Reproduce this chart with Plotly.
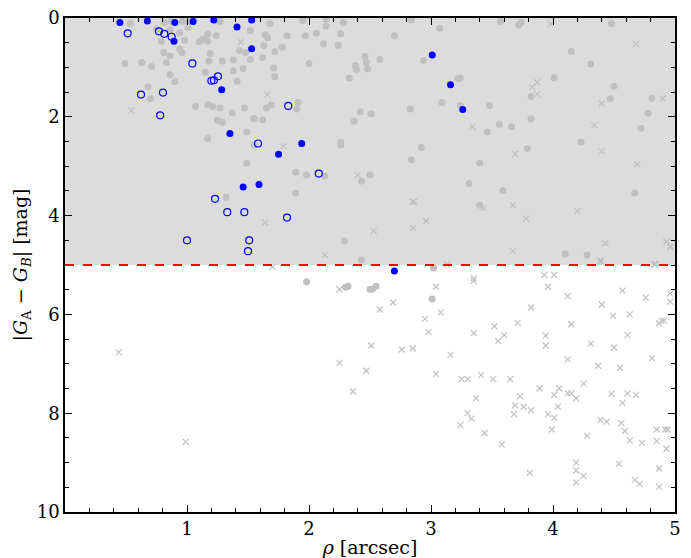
import plotly.graph_objects as go

# ---- data (rho [arcsec], |G_A - G_B| [mag]) ----
blue_fill_x = [0.45, 0.675, 0.90, 1.05, 1.22, 1.41, 1.53, 0.893, 1.53, 1.284, 1.352, 1.46, 1.59,
               3.01, 3.16, 3.26, 1.94, 1.75, 2.70]
blue_fill_y = [0.09, 0.06, 0.09, 0.07, 0.04, 0.18, 0.04, 0.47, 0.62, 1.45, 2.34, 3.42, 3.37,
               0.75, 1.35, 1.85, 2.54, 2.76, 5.12]

blue_open_x = [0.514, 0.77, 0.814, 0.874, 1.044, 1.20, 1.221, 1.254, 0.623, 0.803, 0.78, 1.582,
               1.23, 1.33, 1.47, 1.00, 1.51, 1.50, 1.83, 2.08, 1.82]
blue_open_y = [0.31, 0.27, 0.32, 0.38, 0.92, 1.27, 1.26, 1.18, 1.55, 1.51, 1.97, 2.54,
               3.66, 3.93, 3.93, 4.50, 4.50, 4.72, 1.78, 3.15, 4.04]

grey_dot_x = [0.536, 0.814, 1.01, 0.86, 0.94, 1.01, 1.10, 1.13, 1.17, 1.24, 1.17, 0.98, 0.79, 0.75,
              1.52, 1.43, 1.48, 1.52, 1.38, 1.29, 1.18, 1.19, 0.94, 0.96, 0.81, 0.86, 0.83, 0.71,
              0.63, 0.49, 1.15, 1.38, 1.46, 1.41, 0.86, 0.90, 0.68, 0.70, 1.07, 1.17, 1.21, 1.27,
              1.37, 1.47, 1.55, 1.25, 1.29, 1.17, 1.49, 1.55, 1.49, 0.87, 0.96, 1.27, 1.32,
              1.68, 1.95, 2.14, 2.28, 2.14, 1.97, 1.82, 1.64, 1.66, 2.06, 2.26, 1.63, 1.78, 1.72,
              2.12, 2.24, 1.62, 1.999, 2.46, 2.38, 2.39, 2.47, 2.48, 2.58, 2.70, 1.71, 1.72, 2.33,
              2.94, 3.07, 3.22, 3.09, 2.83, 3.24, 1.90, 1.91, 1.69, 1.65, 1.55, 1.62, 2.42, 2.51,
              2.37, 2.26, 2.26, 2.92, 2.84, 1.89, 1.98, 2.13, 2.50, 2.84,
              2.43, 1.89, 2.29, 2.43, 3.02, 3.31,
              3.57, 3.72, 3.74, 4.48, 4.15, 4.31, 4.01, 4.50, 4.47, 4.81, 4.78, 4.72, 3.82, 3.82,
              3.48, 3.56, 3.66, 3.46, 3.79, 4.23, 3.40, 3.24,
              3.59, 3.40, 4.67, 4.10, 4.28,
              1.98, 2.30, 2.32, 2.50, 2.52, 2.55, 3.01]
grey_dot_y = [0.11, 0.09, 0.09, 0.24, 0.30, 0.19, 0.48, 0.43, 0.33, 0.36, 0.47, 0.45, 0.47, 0.23,
              0.26, 0.66, 0.70, 0.84, 0.85, 0.87, 0.87, 0.72, 0.63, 0.70, 0.70, 0.77, 0.90, 0.98,
              0.90, 0.92, 1.10, 1.07, 1.02, 1.28, 1.15, 1.29, 1.39, 1.63, 1.79, 1.75, 1.79, 1.82,
              1.92, 1.82, 2.04, 2.07, 2.11, 2.44, 2.31, 2.57, 2.94, 0.07, 0.07, 0.07, 3.63,
              0.11, 0.05, 0.03, 0.09, 0.16, 0.36, 0.36, 0.34, 0.40, 0.31, 0.32, 0.56, 0.59, 0.68,
              0.52, 0.55, 0.80, 0.92, 0.78, 0.96, 1.04, 0.90, 1.03, 0.84, 0.36, 1.01, 1.19, 1.22,
              0.86, 0.21, 1.23, 1.71, 1.84, 1.77, 1.84, 1.71, 1.76, 1.82, 2.04, 2.06, 1.90, 1.94,
              2.09, 2.52, 2.57, 2.62, 2.87, 3.12, 3.18, 3.20, 3.18, 0.04,
              3.30, 3.54, 4.51, 4.90, 5.06, 3.35,
              0.07, 0.14, 0.09, 0.11, 0.68, 0.93, 1.21, 1.38, 1.63, 1.63, 1.93, 2.23, 1.59, 2.04,
              1.77, 2.15, 2.20, 2.31, 2.64, 2.51, 2.94, 1.22,
              3.49, 3.79, 3.54, 4.77, 4.80,
              5.34, 5.45, 5.43, 5.49, 5.49, 5.43, 5.69]

grey_cross_x = [0.544, 1.44, 1.66, 1.79, 2.40, 1.64, 2.53, 2.85, 2.86, 2.96, 2.85, 2.13, 1.70, 3.13,
                3.98, 4.68, 3.83, 3.87, 3.87, 4.40, 4.90, 3.34, 4.34, 3.69, 4.40, 4.69,
                3.43, 3.67, 3.78, 4.20, 3.67, 4.43, 4.39, 4.83, 4.93, 4.96, 3.35, 3.93, 4.01,
                0.44, 0.99, 2.25, 2.25, 2.36, 2.47, 2.51,
                2.58, 2.69, 2.76, 2.85, 3.04, 3.08, 2.95, 2.98, 3.04, 3.16, 3.35, 3.35, 3.25, 3.30,
                3.41, 3.51, 3.37, 3.24, 3.33, 3.30, 3.44, 3.52, 3.55, 3.60, 3.65, 3.58, 3.71, 3.68,
                3.69, 3.73, 3.76, 3.82, 3.82, 3.81, 3.89, 3.96, 3.94, 3.94, 3.96, 4.01, 3.99,
                4.01, 4.05, 4.04, 4.12, 4.12, 4.12, 4.15, 4.15, 4.19, 4.25, 4.28, 4.31, 4.19, 4.19,
                4.19, 4.25, 4.37, 4.40, 4.39, 4.44, 4.48, 4.49, 4.50, 4.55, 4.57, 4.57, 4.56, 4.59,
                4.63, 4.63, 4.61, 4.61, 4.68, 4.54, 4.67, 4.71, 4.73, 4.76, 4.81, 4.85, 4.85, 4.87,
                4.87, 4.84, 4.87, 4.89, 4.91, 4.92, 4.94, 4.93, 4.96, 4.96, 4.39]
grey_cross_y = [1.87, 0.49, 1.55, 2.60, 3.18, 4.14, 4.31, 3.72, 3.72, 4.11, 4.25, 4.80, 5.04, 4.99,
                0.12, 0.53, 1.40, 1.30, 1.54, 1.73, 1.63, 2.20, 2.17, 2.75, 2.70, 2.96,
                3.85, 3.79, 4.06, 3.91, 4.72, 4.56, 4.93, 4.99, 4.53, 4.63, 5.27, 5.20, 5.20,
                6.77, 8.58, 5.49, 6.98, 7.56, 7.14, 6.63,
                5.90, 5.76, 6.71, 6.69, 5.44, 5.96, 6.09, 6.36, 7.21, 6.82, 5.32, 6.38, 7.31, 7.31,
                7.23, 7.31, 7.70, 8.24, 8.11, 8.00, 8.40, 6.24, 6.54, 6.42, 7.31, 8.63, 6.17, 8.02,
                7.84, 7.66, 7.87, 7.94, 5.86, 9.21, 7.50, 5.44, 6.43, 6.63, 8.02, 8.09, 8.33,
                7.63, 7.50, 7.87, 5.63, 6.91, 7.60, 7.60, 6.20, 7.70, 7.40, 8.46, 6.59, 9.00, 9.16,
                9.40, 9.27, 7.04, 5.80, 8.14, 8.17, 7.61, 6.03, 6.67, 7.08, 5.52, 7.79, 8.20, 8.36,
                8.55, 6.00, 6.42, 7.60, 7.63, 9.02, 9.35, 9.43, 8.60, 5.66, 6.89, 8.33, 8.56, 9.12,
                9.49, 4.98, 6.18, 6.13, 6.12, 8.33, 8.33, 8.72, 5.58, 5.74, 4.90]

mag_limit = 5.0
x_range = [0, 5]
y_range = [10, 0]
x_ticks = [1, 2, 3, 4, 5]
y_ticks = [0, 2, 4, 6, 8, 10]

GREY = "rgb(192,192,192)"
BLUE = "rgb(0,0,255)"

fig = go.Figure()

fig.add_trace(go.Scatter(x=grey_dot_x, y=grey_dot_y, mode="markers",
                         marker=dict(symbol="circle", size=7, color=GREY, line=dict(width=0)),
                         showlegend=False, hoverinfo="skip"))
fig.add_trace(go.Scatter(x=grey_cross_x, y=grey_cross_y, mode="markers",
                         marker=dict(symbol="x-thin", size=6, color=GREY,
                                     line=dict(width=1.2, color=GREY)),
                         showlegend=False, hoverinfo="skip"))
fig.add_trace(go.Scatter(x=blue_open_x, y=blue_open_y, mode="markers",
                         marker=dict(symbol="circle-open", size=7, color=BLUE,
                                     line=dict(width=1.2, color=BLUE)),
                         showlegend=False, hoverinfo="skip"))
fig.add_trace(go.Scatter(x=blue_fill_x, y=blue_fill_y, mode="markers",
                         marker=dict(symbol="circle", size=7, color=BLUE, line=dict(width=0)),
                         showlegend=False, hoverinfo="skip"))

# shaded region (0 - mag_limit) and threshold line
fig.add_shape(type="rect", xref="x domain", yref="y", x0=0, x1=1, y0=0, y1=mag_limit,
              fillcolor="rgb(220,220,220)", line=dict(width=0), layer="below")
fig.add_shape(type="line", xref="x domain", yref="y", x0=0, x1=1, y0=mag_limit, y1=mag_limit,
              line=dict(color="red", width=2.2, dash="dash"), layer="above")

FONT = "DejaVu Serif, serif"
axis_common = dict(showline=True, linecolor="black", linewidth=1.5, mirror="ticks",
                   ticks="inside", ticklen=7, tickwidth=1.2, tickcolor="black",
                   showgrid=False, zeroline=False, automargin=False,
                   tickfont=dict(family=FONT, size=18, color="black"))

fig.update_xaxes(range=x_range, tickvals=x_ticks,
                 minor=dict(dtick=0.2, tick0=0, ticks="inside", ticklen=4, tickwidth=1,
                            tickcolor="black", showgrid=False),
                 title=dict(text="<i>ρ</i> [arcsec]", font=dict(family=FONT, size=19, color="black"),
                            standoff=2),
                 **axis_common)
fig.update_yaxes(range=y_range, tickvals=y_ticks,
                 minor=dict(dtick=0.5, tick0=0, ticks="inside", ticklen=4, tickwidth=1,
                            tickcolor="black", showgrid=False),
                 title=dict(text="|<i>G</i><sub>A</sub> − <i>G</i><sub><i>B</i></sub>| [mag]",
                            font=dict(family=FONT, size=19, color="black"), standoff=4),
                 **axis_common)

fig.update_layout(width=691, height=558, margin=dict(l=65, r=16, t=18, b=46),
                  paper_bgcolor="white", plot_bgcolor="white",
                  font=dict(family=FONT, color="black"))

fig.write_html("out.html")
